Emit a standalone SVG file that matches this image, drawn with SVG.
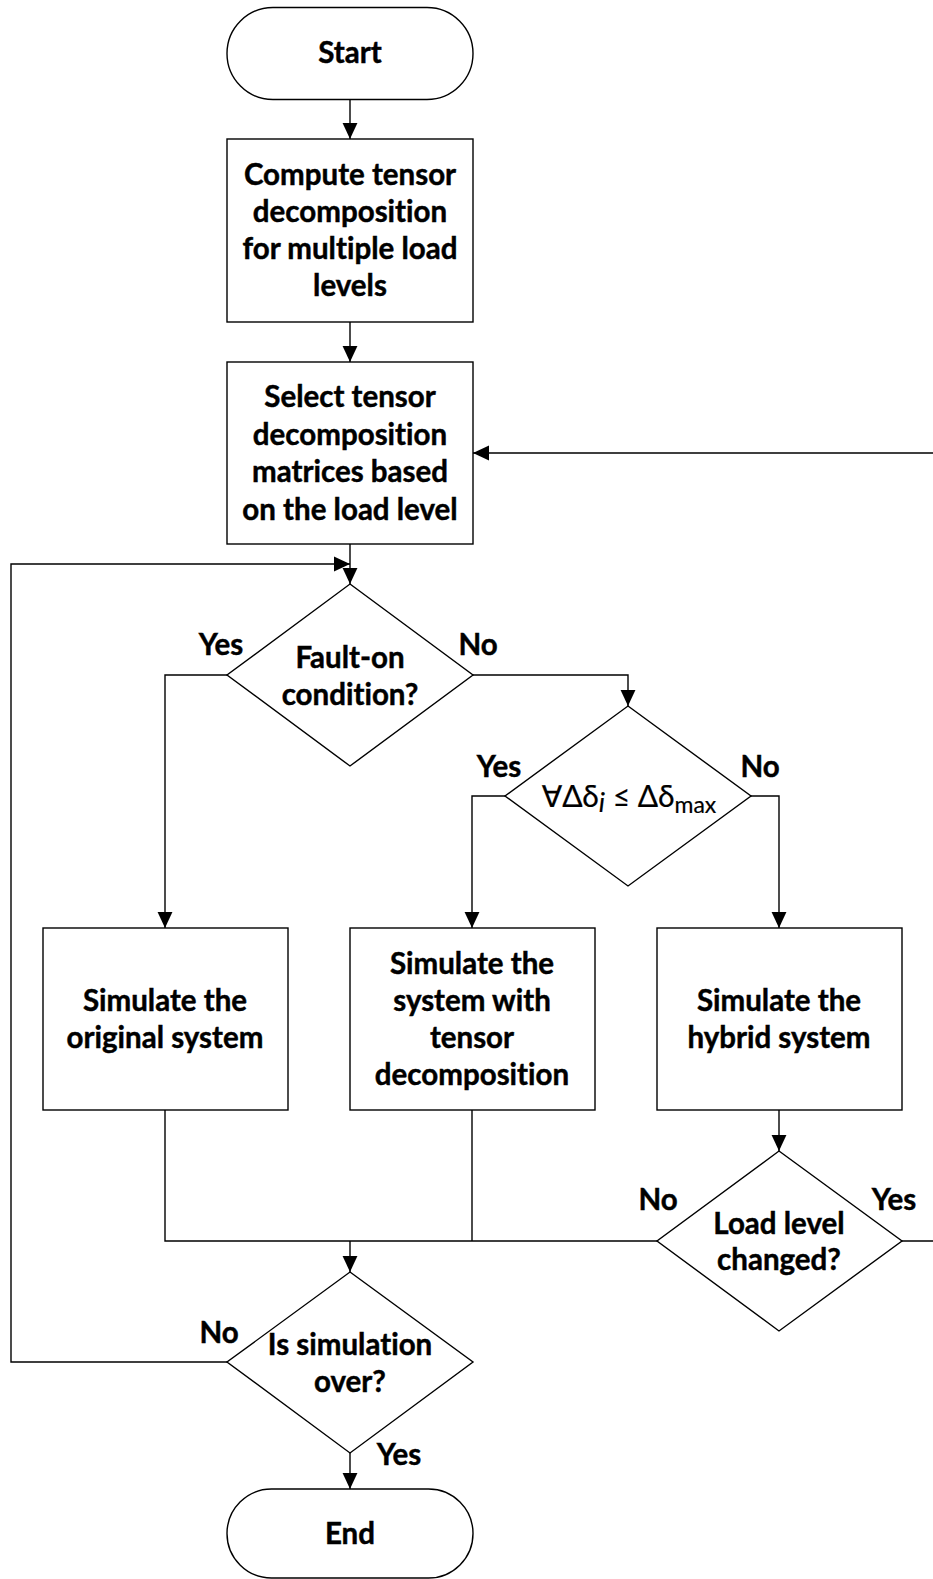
<svg xmlns="http://www.w3.org/2000/svg" width="933" height="1579" viewBox="0 0 933 1579">
  <defs>
    <style>
      .shape { fill: #ffffff; stroke: #000000; stroke-width: 1.4; }
      .conn { fill: none; stroke: #000000; stroke-width: 1.4; }
      .lbl { font-family: Lato, "Open Sans", "DejaVu Sans", sans-serif; font-weight: bold; font-size: 29.5px; fill: #000000; stroke: #000000; stroke-width: 0.45; text-anchor: middle; font-variant-ligatures: none; }
      .math { font-family: Lato, "DejaVu Sans", sans-serif; font-weight: normal; font-size: 30px; fill: #000000; stroke: #000000; stroke-width: 0.2; text-anchor: middle; font-variant-ligatures: none; }
    </style>
    <marker id="arrow" markerUnits="userSpaceOnUse" markerWidth="16" markerHeight="16" viewBox="0 0 14 14" refX="14" refY="7" orient="auto">
      <path d="M0,0.5 L14,7 L0,13.5 Z" fill="#000000"/>
    </marker>
  </defs>

  <!-- connectors -->
  <g id="connectors">
    <path class="conn" d="M350,99 V139" marker-end="url(#arrow)"/>
    <path class="conn" d="M350,322 V362" marker-end="url(#arrow)"/>
    <path class="conn" d="M350,544 V584" marker-end="url(#arrow)"/>
    <!-- fault-on: yes / no -->
    <path class="conn" d="M227,675 H165 V928" marker-end="url(#arrow)"/>
    <path class="conn" d="M473,675 H628 V706" marker-end="url(#arrow)"/>
    <!-- delta check: yes / no -->
    <path class="conn" d="M505,796 H472 V928" marker-end="url(#arrow)"/>
    <path class="conn" d="M751,796 H779 V928" marker-end="url(#arrow)"/>
    <!-- hybrid system to load-level check -->
    <path class="conn" d="M779,1110 V1151" marker-end="url(#arrow)"/>
    <!-- merge of the three branches -->
    <path class="conn" d="M165,1110 V1241 H657"/>
    <path class="conn" d="M472,1110 V1241"/>
    <path class="conn" d="M350,1241 V1272" marker-end="url(#arrow)"/>
    <!-- load level changed: back to selection -->
    <path class="conn" d="M902,1241 H934 V453 H473" marker-end="url(#arrow)"/>
    <!-- simulation not over: loop back -->
    <path class="conn" d="M227,1362 H11 V564 H350" marker-end="url(#arrow)"/>
    <path class="conn" d="M350,1453 V1489" marker-end="url(#arrow)"/>
  </g>

  <g id="start">
    <rect class="shape" x="227" y="7.5" width="246" height="92" rx="46" ry="46"/>
    <text class="lbl" x="350" y="63">Start</text>
  </g>

  <g id="compute">
    <rect class="shape" x="227" y="139" width="246" height="183"/>
    <text class="lbl" x="350" y="185">Compute tensor</text>
    <text class="lbl" x="350" y="222">decomposition</text>
    <text class="lbl" x="350" y="259">for multiple load</text>
    <text class="lbl" x="350" y="296">levels</text>
  </g>

  <g id="select">
    <rect class="shape" x="227" y="362" width="246" height="182"/>
    <text class="lbl" x="350" y="407">Select tensor</text>
    <text class="lbl" x="350" y="445">decomposition</text>
    <text class="lbl" x="350" y="482">matrices based</text>
    <text class="lbl" x="350" y="520">on the load level</text>
  </g>

  <g id="fault-on">
    <polygon class="shape" points="350,584 473,675 350,766 227,675"/>
    <text class="lbl" x="350" y="668">Fault-on</text>
    <text class="lbl" x="350" y="705">condition?</text>
    <text class="lbl" x="221" y="655">Yes</text>
    <text class="lbl" x="478" y="655">No</text>
  </g>

  <g id="delta-check">
    <polygon class="shape" points="628,706 751,796 628,886 505,796"/>
    <text class="math" x="629" y="807">∀Δδ<tspan font-style="italic" font-size="27" dy="5">i</tspan><tspan dy="-5"> ≤ Δδ</tspan><tspan font-size="23" dy="6">max</tspan></text>
    <text class="lbl" x="499" y="777">Yes</text>
    <text class="lbl" x="760" y="777">No</text>
  </g>

  <g id="sim-original">
    <rect class="shape" x="43" y="928" width="245" height="182"/>
    <text class="lbl" x="165" y="1011">Simulate the</text>
    <text class="lbl" x="165" y="1048">original system</text>
  </g>

  <g id="sim-tensor">
    <rect class="shape" x="350" y="928" width="245" height="182"/>
    <text class="lbl" x="472" y="974">Simulate the</text>
    <text class="lbl" x="472" y="1011">system with</text>
    <text class="lbl" x="472" y="1048">tensor</text>
    <text class="lbl" x="472" y="1085">decomposition</text>
  </g>

  <g id="sim-hybrid">
    <rect class="shape" x="657" y="928" width="245" height="182"/>
    <text class="lbl" x="779" y="1011">Simulate the</text>
    <text class="lbl" x="779" y="1048">hybrid system</text>
  </g>

  <g id="load-check">
    <polygon class="shape" points="779,1151 902,1241 779,1331 657,1241"/>
    <text class="lbl" x="779" y="1234">Load level</text>
    <text class="lbl" x="779" y="1270">changed?</text>
    <text class="lbl" x="658" y="1210">No</text>
    <text class="lbl" x="894" y="1210">Yes</text>
  </g>

  <g id="sim-over">
    <polygon class="shape" points="350,1272 473,1362 350,1453 227,1362"/>
    <text class="lbl" x="350" y="1355">Is simulation</text>
    <text class="lbl" x="350" y="1392">over?</text>
    <text class="lbl" x="219" y="1343">No</text>
    <text class="lbl" x="399" y="1465">Yes</text>
  </g>

  <g id="end">
    <rect class="shape" x="227" y="1489" width="246" height="89" rx="44.5" ry="44.5"/>
    <text class="lbl" x="350" y="1544">End</text>
  </g>
</svg>
